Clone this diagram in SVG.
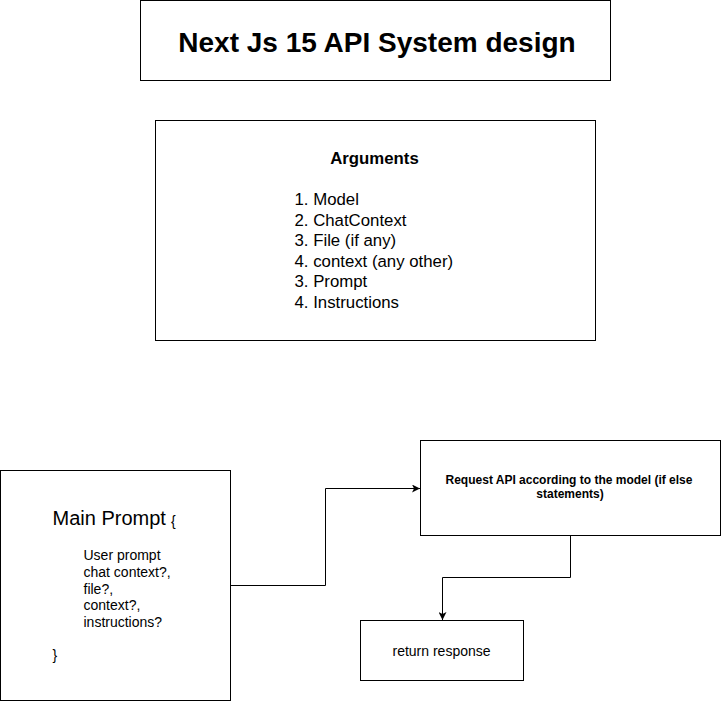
<svg xmlns="http://www.w3.org/2000/svg" width="722" height="702" viewBox="0 0 722 702">
<style>
.box{fill:#fff;stroke:#000;stroke-width:1}
.t{font-family:"Liberation Sans",Arial,sans-serif;fill:#000}
.b{font-weight:bold}
.edge{fill:none;stroke:#000;stroke-width:1}
</style>
<defs>
<marker id="arr" markerUnits="userSpaceOnUse" viewBox="0 0 8 8" refX="8" refY="4" markerWidth="8" markerHeight="8" orient="auto">
<path d="M0,0 L8,4 L0,8 L2,4 Z" fill="#000"/>
</marker>
</defs>
<rect width="722" height="702" fill="#fff"/>
<g id="title">
<rect class="box" x="140.5" y="0.5" width="470" height="80"/>
<text class="t b" x="377" y="51.5" font-size="28" text-anchor="middle">Next Js 15 API System design</text>
</g>
<g id="arguments">
<rect class="box" x="155.5" y="120.5" width="440" height="220"/>
<text class="t b" x="374.5" y="164" font-size="16.8" text-anchor="middle">Arguments</text>
<g class="t" font-size="16.8">
<text x="294.5" y="205">1. Model</text>
<text x="294.5" y="225.5">2. ChatContext</text>
<text x="294.5" y="246">3. File (if any)</text>
<text x="294.5" y="266.5">4. context (any other)</text>
<text x="294.5" y="287">3. Prompt</text>
<text x="294.5" y="307.5">4. Instructions</text>
</g>
</g>
<g id="main-prompt">
<rect class="box" x="0.5" y="470.5" width="230" height="230"/>
<text class="t" x="52.5" y="525" font-size="20">Main Prompt</text>
<text class="t" x="171" y="526" font-size="14">{</text>
<g class="t" font-size="14">
<text x="83.5" y="560">User prompt</text>
<text x="83.5" y="576.8">chat context?,</text>
<text x="83.5" y="593.6">file?,</text>
<text x="83.5" y="610.4">context?,</text>
<text x="83.5" y="627.2">instructions?</text>
<text x="52.5" y="660.4">}</text>
</g>
</g>
<g id="request-api">
<rect class="box" x="420.5" y="440.5" width="300" height="95"/>
<text class="t b" font-size="12" text-anchor="middle"><tspan x="569" y="484">Request API according to the model (if else</tspan><tspan x="570" y="498.4">statements)</tspan></text>
</g>
<g id="return-response">
<rect class="box" x="360.5" y="620.5" width="163" height="60"/>
<text class="t" x="441.5" y="655.5" font-size="14" text-anchor="middle">return response</text>
</g>
<g id="connectors">
<path class="edge" d="M230.5 585.5 H325.5 V488.5 H420" marker-end="url(#arr)"/>
<path class="edge" d="M570.5 535.5 V577.5 H442.5 V620" marker-end="url(#arr)"/>
</g>
</svg>
